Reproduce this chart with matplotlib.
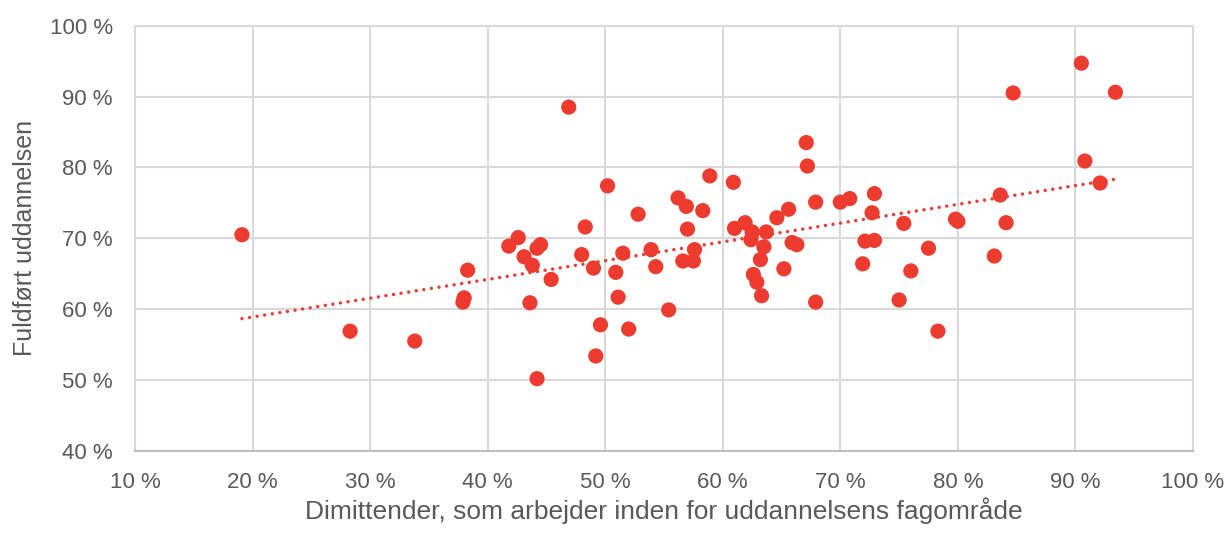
''' Scatter: graduates working within field vs. completed education, with linear trend '''

import numpy as np
import matplotlib
matplotlib.use('Agg')
import matplotlib.pyplot as plt
from matplotlib.ticker import FuncFormatter

# Dimittender, som arbejder inden for uddannelsens fagområde (%)
x_pct = [19.1, 28.3, 33.8, 38.3, 38.0, 37.9,
         46.9, 50.2, 41.8, 42.6, 43.1, 43.8, 44.2, 44.5, 45.4, 43.6, 44.2,
         48.3, 48.0, 49.0, 49.6, 49.2, 50.9, 51.1, 51.5, 52.0, 52.8, 53.9,
         54.3, 55.4, 56.2, 56.9, 57.0, 58.3, 58.9, 56.6, 57.5, 57.6,
         60.9, 61.0, 61.9, 62.5, 62.4, 63.7, 63.5, 63.2, 62.6, 62.9, 63.3,
         64.6, 65.6, 65.2, 65.9, 66.3, 67.1, 67.2, 67.9, 67.9, 70.0, 70.8,
         72.9, 72.7, 72.1, 72.9, 71.9, 75.4, 77.5, 76.0, 75.0, 78.3,
         79.8, 80.0, 83.1, 83.6, 84.1, 84.7, 90.5, 90.8, 92.1, 93.4]

# Fuldført uddannelsen (%)
y_pct = [70.5, 56.9, 55.5, 65.5, 61.6, 61.0,
         88.5, 77.4, 68.9, 70.1, 67.4, 66.2, 68.6, 69.1, 64.2, 60.9, 50.2,
         71.6, 67.7, 65.8, 57.8, 53.4, 65.2, 61.7, 67.9, 57.2, 73.4, 68.4,
         66.0, 59.9, 75.7, 74.5, 71.3, 73.9, 78.8, 66.8, 66.8, 68.4,
         77.9, 71.4, 72.2, 70.9, 69.8, 70.9, 68.8, 67.0, 64.9, 63.8, 61.9,
         72.9, 74.1, 65.7, 69.4, 69.1, 83.5, 80.2, 75.1, 61.0, 75.1, 75.6,
         76.3, 73.6, 69.6, 69.7, 66.4, 72.1, 68.6, 65.4, 61.3, 56.9,
         72.7, 72.4, 67.5, 76.1, 72.2, 90.5, 94.7, 80.9, 77.8, 90.6]

x = np.array(x_pct)
y = np.array(y_pct)

red = '#EE3B2F'
grey_txt = '#595959'
grid_col = '#D9D9D9'

plt.rcParams['font.family'] = ['Liberation Sans', 'DejaVu Sans']

fig = plt.figure(figsize=(12.28, 5.45), dpi=100)
ax = fig.add_axes([0.1099, 0.1725, 0.8616, 0.7805])

ax.scatter(x, y, s=120, color=red, edgecolors='none', zorder=3)

# linear trend line over the data range
k, m = np.polyfit(x, y, 1)
xt = np.array([x.min(), x.max()])
ax.plot(xt, k * xt + m, color=red, lw=2.5, linestyle=(0, (0.01, 2.2)),
        dash_capstyle='round', zorder=2)

ax.set_xlim(10, 100)
ax.set_ylim(40, 100)
ax.set_xticks(np.arange(10, 101, 10))
ax.set_yticks(np.arange(40, 101, 10))
fmt = FuncFormatter(lambda v, p: f'{v:.0f} %')
ax.xaxis.set_major_formatter(fmt)
ax.yaxis.set_major_formatter(fmt)

ax.grid(True, color=grid_col, lw=1.5, zorder=0)
ax.set_axisbelow(True)
for sp in ax.spines.values():
    sp.set_color(grid_col)
    sp.set_linewidth(1.5)
ax.spines['bottom'].set_color('#BFBFBF')

ax.tick_params(length=0, labelsize=16, colors=grey_txt)
ax.tick_params(axis='x', pad=15)
ax.tick_params(axis='y', pad=16)

ax.set_xlabel('Dimittender, som arbejder inden for uddannelsens fagområde',
              fontsize=19, color=grey_txt, labelpad=3)
ax.set_ylabel('Fuldført uddannelsen', fontsize=18, color=grey_txt, labelpad=9)

fig.savefig('out.png', dpi=100)
